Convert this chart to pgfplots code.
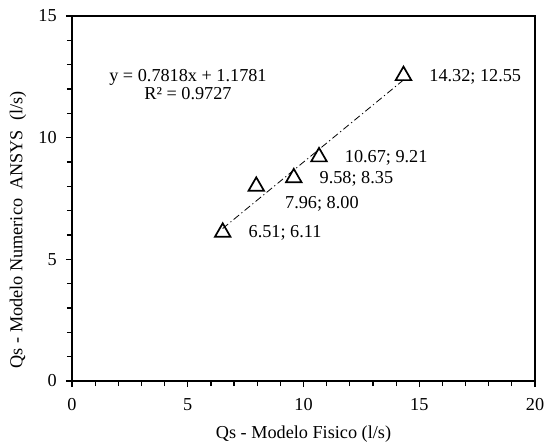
\documentclass[border=0pt]{standalone}
\usepackage{pgfplots}
\pgfplotsset{compat=1.18}
\usepackage{fontspec}
\setmainfont{Liberation Serif}
\newcommand\bigfont{\fontsize{18.3}{21}\selectfont}
\begin{document}
\bigfont
\begin{tikzpicture}
  \pgfplotsset{
    pairlabel/.style={
      visualization depends on={x \as \xval},
      point meta=y,
      nodes near coords={\pgfmathprintnumber[fixed,fixed zerofill,precision=2]{\xval}; \pgfmathprintnumber[fixed,fixed zerofill,precision=2]{\pgfplotspointmeta}},
    },
  }
  \begin{axis}[
    scale only axis,
    width=463bp, height=365bp,
    xmin=0, xmax=20, ymin=0, ymax=15,
    xtick={0,5,10,15,20}, ytick={0,5,10,15},
    minor x tick num=4, minor y tick num=4,
    tick align=outside,
    xtick pos=bottom, ytick pos=left,
    major tick length=6bp, minor tick length=5bp,
    every tick/.style={black, line width=1.2bp},
    axis line style={line width=1.5bp},
    /pgf/number format/assume math mode=true,
    tick label style={font=\bigfont},
    xticklabel style={yshift=-5bp},
    yticklabel style={xshift=-3bp},
    xlabel={Qs - Modelo Fisico (l/s)},
    ylabel={Qs - Modelo Numerico\ \ ANSYS\ \ (l/s)},
    label style={font=\bigfont},
    xlabel style={yshift=-2.5bp},
    ylabel style={at={(ticklabel cs:0.414)}, yshift=0bp},
  ]
    % trendline y = 0.7818x + 1.1781
    \addplot[black, line width=0.8bp, dash pattern=on 7bp off 3bp on 1.2bp off 3bp]
      coordinates {(6.51,6.267) (14.32,12.373)};
    \addplot[only marks, mark=triangle, mark size=9bp,
      mark options={line width=1.7bp, black, fill=white},
      pairlabel,
      every node near coord/.append style={font=\bigfont, anchor=west, xshift=19bp, yshift=-1bp}]
      coordinates {(6.51,6.11) (9.58,8.35) (10.67,9.21) (14.32,12.55)};
    \addplot[only marks, mark=triangle, mark size=9bp,
      mark options={line width=1.7bp, black, fill=white},
      pairlabel,
      every node near coord/.append style={font=\bigfont, anchor=west, xshift=22bp, yshift=-18bp}]
      coordinates {(7.96,8.00)};
    \node[align=center, font=\bigfont] at (axis cs:5.01,12.2) {y = 0.7818x + 1.1781\\[-3bp]R² = 0.9727};
    \coordinate (bbsw) at (rel axis cs:0,0);
    \coordinate (bbne) at (rel axis cs:1,1);
  \end{axis}
  \pgfresetboundingbox
  \useasboundingbox ([shift={(-72bp,-63bp)}]bbsw) rectangle ([shift={(10bp,16bp)}]bbne);
\end{tikzpicture}
\end{document}
